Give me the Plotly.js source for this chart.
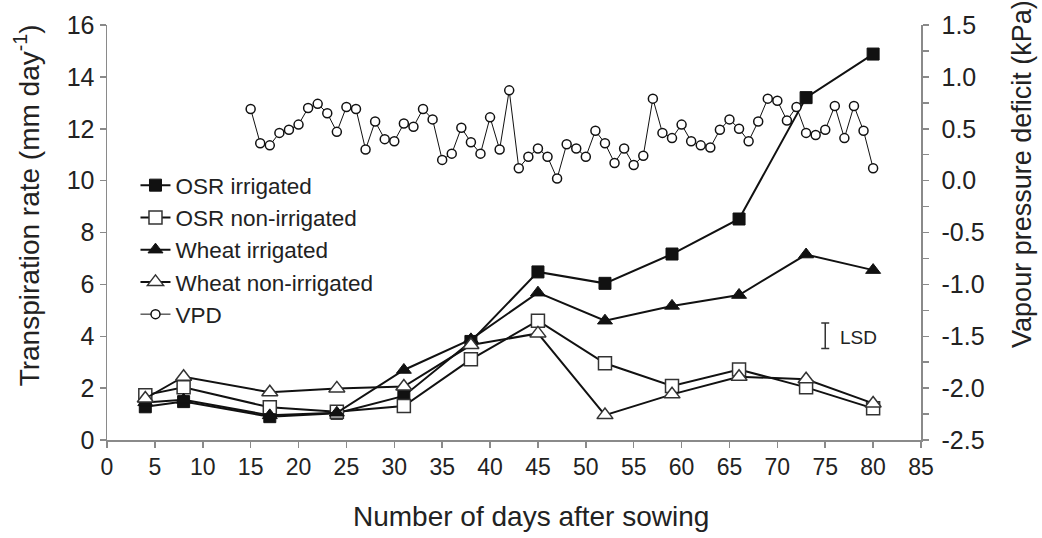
<!DOCTYPE html>
<html>
<head>
<meta charset="utf-8">
<script src="https://cdn.plot.ly/plotly-3.0.1.min.js"></script>
<style>html,body{margin:0;padding:0;background:#fff;}#chart{width:1042px;height:538px;}</style>
</head>
<body>
<div id="chart"></div>
<script>
var days = [4, 8, 17, 24, 31, 38, 45, 52, 59, 66, 73, 80];
var osrIrrigated = [1.28, 1.48, 0.90, 1.03, 1.70, 3.80, 6.48, 6.04, 7.17, 8.52, 13.2, 14.88];
var osrNonIrrigated = [1.73, 2.03, 1.26, 1.09, 1.31, 3.11, 4.60, 2.96, 2.08, 2.72, 2.03, 1.22];
var wheatIrrigated = [1.45, 1.55, 0.95, 1.05, 2.70, 3.88, 5.68, 4.60, 5.17, 5.59, 7.15, 6.55];
var wheatNonIrrigated = [1.60, 2.44, 1.84, 1.99, 2.06, 3.66, 4.11, 0.96, 1.76, 2.44, 2.34, 1.41];

var vpdDays = [15, 16, 17, 18, 19, 20, 21, 22, 23, 24, 25, 26, 27, 28, 29, 30, 31, 32, 33, 34, 35, 36,
  37, 38, 39, 40, 41, 42, 43, 44, 45, 46, 47, 48, 49, 50, 51, 52, 53, 54, 55, 56, 57, 58,
  59, 60, 61, 62, 63, 64, 65, 66, 67, 68, 69, 70, 71, 72, 73, 74, 75, 76, 77, 78, 79, 80];
var vpd = [0.69, 0.36, 0.34, 0.46, 0.49, 0.54, 0.70, 0.74, 0.65, 0.47, 0.71, 0.69, 0.30, 0.57, 0.40, 0.38, 0.55, 0.52, 0.69, 0.59, 0.20, 0.26,
  0.51, 0.37, 0.26, 0.61, 0.30, 0.87, 0.12, 0.23, 0.31, 0.23, 0.02, 0.35, 0.31, 0.23, 0.48, 0.36, 0.17, 0.31, 0.15, 0.24, 0.79, 0.46,
  0.41, 0.54, 0.38, 0.34, 0.32, 0.49, 0.59, 0.50, 0.38, 0.57, 0.79, 0.77, 0.58, 0.71, 0.46, 0.44, 0.49, 0.72, 0.41, 0.72, 0.48, 0.12];

var vpdTickVals = [-2.5, -2.0, -1.5, -1.0, -0.5, 0.0, 0.5, 1.0, 1.5];
var vpdTickText = ['-2.5', '-2.0', '-1.5', '-1.0', '-0.5', '0.0', '0.5', '1.0', '1.5'];

var lsdX = [75];
var lsdY = [4.02];
var lsdHalf = [0.49];

var seriesNames = ['OSR irrigated', 'OSR non-irrigated', 'Wheat irrigated', 'Wheat non-irrigated', 'VPD'];
var xTitle = 'Number of days after sowing';
var yTitle = 'Transpiration rate (mm day<sup>-1</sup>)';
var y2Title = 'Vapour pressure deficit (kPa)';

var ink = '#111';
var textColor = '#222';
var axisColor = '#8a8a8a';
var fontFamily = 'Liberation Sans, Arial, sans-serif';

var traces = [
  {x: days, y: osrIrrigated, name: seriesNames[0], mode: 'lines+markers', type: 'scatter',
   line: {color: ink, width: 2}, marker: {symbol: 'square', size: 12, color: ink, line: {color: ink, width: 1}}},
  {x: days, y: osrNonIrrigated, name: seriesNames[1], mode: 'lines+markers', type: 'scatter',
   line: {color: ink, width: 2}, marker: {symbol: 'square', size: 13, color: '#fff', line: {color: '#333', width: 1.5}}},
  {x: days, y: wheatIrrigated, name: seriesNames[2], mode: 'lines+markers', type: 'scatter',
   line: {color: ink, width: 2}, marker: {symbol: 'triangle-up', size: 13, color: ink, line: {color: ink, width: 1}}},
  {x: days, y: wheatNonIrrigated, name: seriesNames[3], mode: 'lines+markers', type: 'scatter',
   line: {color: ink, width: 2}, marker: {symbol: 'triangle-up', size: 14, color: '#fff', line: {color: '#333', width: 1.5}}},
  {x: vpdDays, y: vpd, name: seriesNames[4], yaxis: 'y2', mode: 'lines+markers', type: 'scatter',
   line: {color: ink, width: 1}, marker: {symbol: 'circle', size: 9, color: '#fff', line: {color: ink, width: 1.5}}},
  {x: lsdX, y: lsdY, mode: 'markers', type: 'scatter', showlegend: false, hoverinfo: 'skip',
   marker: {size: 1, color: 'rgba(0,0,0,0)'},
   error_y: {type: 'data', array: lsdHalf, visible: true, color: '#333', thickness: 1.5, width: 4}}
];

var layout = {
  width: 1042, height: 538,
  margin: {l: 107, r: 121, t: 25, b: 98},
  paper_bgcolor: '#fff', plot_bgcolor: '#fff',
  font: {family: fontFamily, color: textColor, size: 22},
  showlegend: true,
  legend: {x: 0.035, y: 0.665, xanchor: 'left', yanchor: 'top', bgcolor: 'rgba(0,0,0,0)',
    font: {size: 22.5, color: textColor, family: fontFamily}, itemwidth: 30, tracegroupgap: 0},
  xaxis: {range: [0, 85], dtick: 5, tick0: 0, showgrid: false, zeroline: false,
    showline: true, linecolor: axisColor, linewidth: 1.5,
    ticks: 'outside', ticklen: 6, tickcolor: axisColor, tickwidth: 1.5,
    tickfont: {size: 23, color: textColor}},
  yaxis: {range: [0, 16], dtick: 2, showgrid: false, zeroline: false,
    showline: true, linecolor: axisColor, linewidth: 1.5,
    ticks: 'outside', ticklen: 6, tickcolor: axisColor, tickwidth: 1.5,
    tickfont: {size: 25, color: textColor}},
  yaxis2: {range: [-2.5, 1.5], tickvals: vpdTickVals, ticktext: vpdTickText, overlaying: 'y', side: 'right',
    showgrid: false, zeroline: false, showline: true, linecolor: axisColor, linewidth: 1.5,
    ticks: 'outside', ticklen: 6, tickcolor: axisColor, tickwidth: 1.5, ticklabelstandoff: 8,
    minor: {dtick: 0.25, tick0: -2.5, ticks: 'outside', ticklen: 6, tickcolor: axisColor, tickwidth: 1.5},
    tickfont: {size: 25, color: textColor}},
  annotations: [
    {x: 76.3, y: 3.95, xref: 'x', yref: 'y', text: 'LSD', showarrow: false,
     xanchor: 'left', yanchor: 'middle', font: {size: 19, color: textColor}},
    {x: 0.5203, y: -0.185, xref: 'paper', yref: 'paper', text: xTitle, showarrow: false,
     xanchor: 'center', yanchor: 'middle', font: {size: 28, color: textColor}},
    {x: -0.098, y: 0.566, xref: 'paper', yref: 'paper', text: yTitle, showarrow: false, textangle: -90,
     xanchor: 'center', yanchor: 'middle', font: {size: 28, color: textColor}},
    {x: 1.124, y: 0.641, xref: 'paper', yref: 'paper', text: y2Title, showarrow: false, textangle: -90,
     xanchor: 'center', yanchor: 'middle', font: {size: 27, color: textColor}}
  ]
};

Plotly.newPlot('chart', traces, layout, {displayModeBar: false, staticPlot: true});
</script>
</body>
</html>
